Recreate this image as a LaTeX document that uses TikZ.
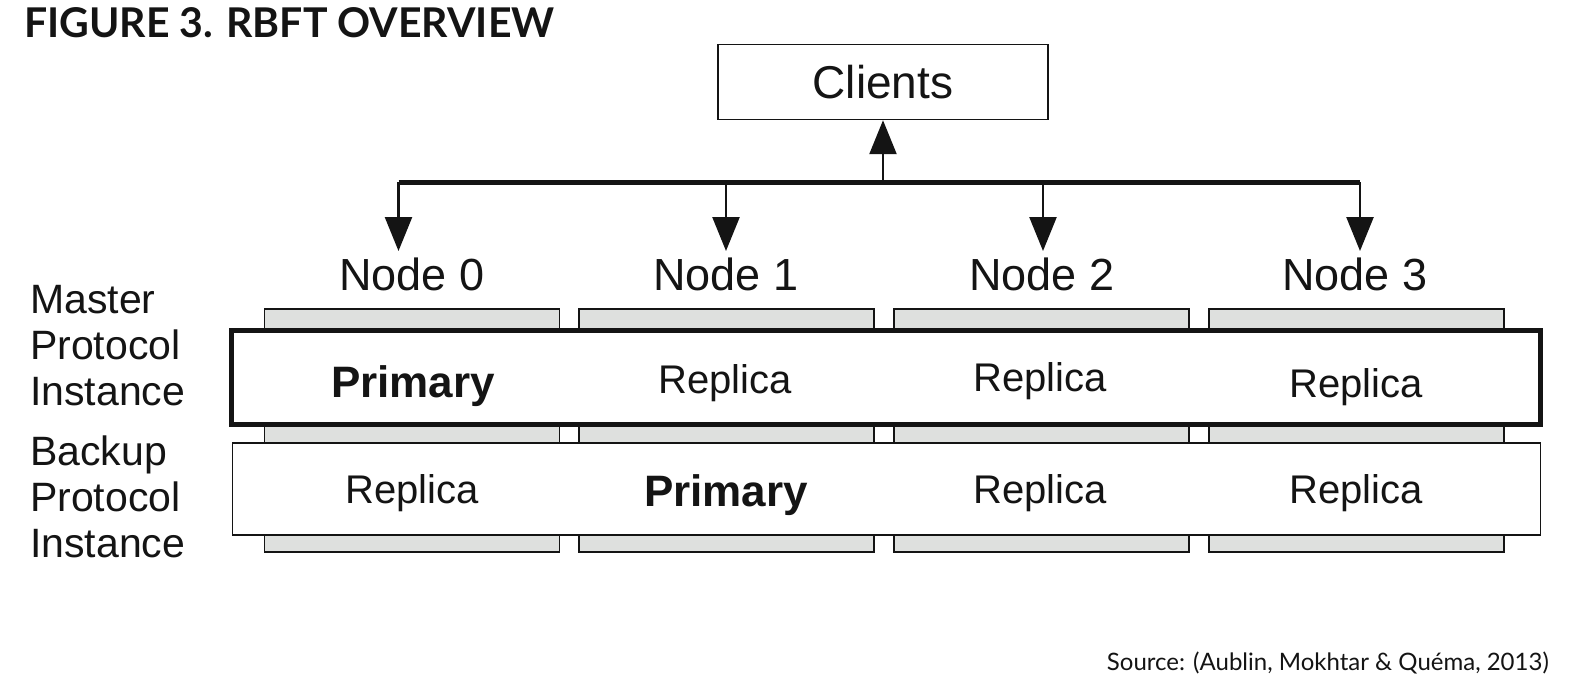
\documentclass[tikz,border=0pt]{standalone}
\usepackage{fontspec}
\setmainfont{Liberation Sans}
\newfontfamily\titlefont{Lato}
\newfontfamily\srcfont{Lato}
\usetikzlibrary{arrows.meta}
\definecolor{barGray}{RGB}{222,224,222}
\definecolor{ink}{RGB}{20,20,20}
\begin{document}
\begin{tikzpicture}[x=1pt,y=-1pt,
  bar/.style={draw=ink, line width=1.5pt, fill=barGray, minimum width=295pt, minimum height=243pt, inner sep=0pt},
  row/.style={draw=ink, fill=white, inner sep=0pt},
  lbl/.style={font=\fontsize{45}{54}\selectfont, text=ink, inner sep=0pt},
  rep/.style={font=\fontsize{40}{48}\selectfont, text=ink, inner sep=0pt},
  prim/.style={font=\fontsize{44}{52}\selectfont\bfseries, text=ink, inner sep=0pt},
  side/.style={font=\fontsize{41}{46}\selectfont, text=ink, align=left, anchor=west, inner sep=0pt},
  bus/.style={draw=ink, line width=5pt},
  arr/.style={draw=ink, line width=2.5pt, -{Triangle[width=27pt,length=34pt]}}]
\useasboundingbox (0,0) rectangle (1582,698);
\fill[white] (0,0) rectangle (1582,698);
% title
\node[anchor=west, inner sep=0pt, text=ink, font=\fontsize{41}{48}\selectfont\titlefont\bfseries] (title) at (24,23) {FIGURE 3. RBFT OVERVIEW};
% bars
\node[bar] (bar0) at (412,430.5) {};
\node[bar] (bar1) at (726.5,430.5) {};
\node[bar] (bar2) at (1041.5,430.5) {};
\node[bar] (bar3) at (1356.5,430.5) {};
% rows
\node[row, line width=5pt, minimum width=1309pt, minimum height=94pt] (master) at (886,377.5) {};
\node[row, line width=1.5pt, minimum width=1308pt, minimum height=92pt] (backup) at (886.5,489) {};
% clients
\node[row, line width=1.5pt, minimum width=330pt, minimum height=75pt] (clients) at (883,82) {};
\node[lbl, font=\fontsize{46}{54}\selectfont] (clientsT) at (883,82) {Clients};
% node labels
\node[lbl] (n0) at (412,274) {Node 0};
\node[lbl] (n1) at (726,274) {Node 1};
\node[lbl] (n2) at (1042,274) {Node 2};
\node[lbl] (n3) at (1355,274) {Node 3};
% master row texts
\node[prim] (m0) at (413,386) {Primary};
\node[rep] (m1) at (725,383) {Replica};
\node[rep] (m2) at (1040,381) {Replica};
\node[rep] (m3) at (1356,387) {Replica};
% backup row texts
\node[rep] (b0t) at (412,493) {Replica};
\node[prim] (b1t) at (726,495) {Primary};
\node[rep] (b2t) at (1040,493) {Replica};
\node[rep] (b3t) at (1356,493) {Replica};
% side labels
\node[side] (mlab) at (30,346) {Master\\Protocol\\Instance};
\node[side] (blab) at (30,497) {Backup\\Protocol\\Instance};
% bus and arrows
\coordinate (busL) at (398.5,182);
\coordinate (busR) at (1360,182);
\coordinate (busC) at (883,182);
\coordinate (s1) at (726,182);
\coordinate (s2) at (1043,182);
\coordinate (t0) at (398.5,251);
\coordinate (t1) at (726,251);
\coordinate (t2) at (1043,251);
\coordinate (t3) at (1360,251);
\draw[bus] (busL) -- (busR);
\draw[arr] (busC) -- (clients.south);
\draw[arr] (busL) -- (t0);
\draw[arr] (s1) -- (t1);
\draw[arr] (s2) -- (t2);
\draw[arr] (busR) -- (t3);
% source
\node[anchor=east, inner sep=0pt, text=ink, font=\fontsize{24}{30}\selectfont\srcfont] (src) at (1549,663) {Source: (Aublin, Mokhtar \& Quéma, 2013)};
\end{tikzpicture}
\end{document}
